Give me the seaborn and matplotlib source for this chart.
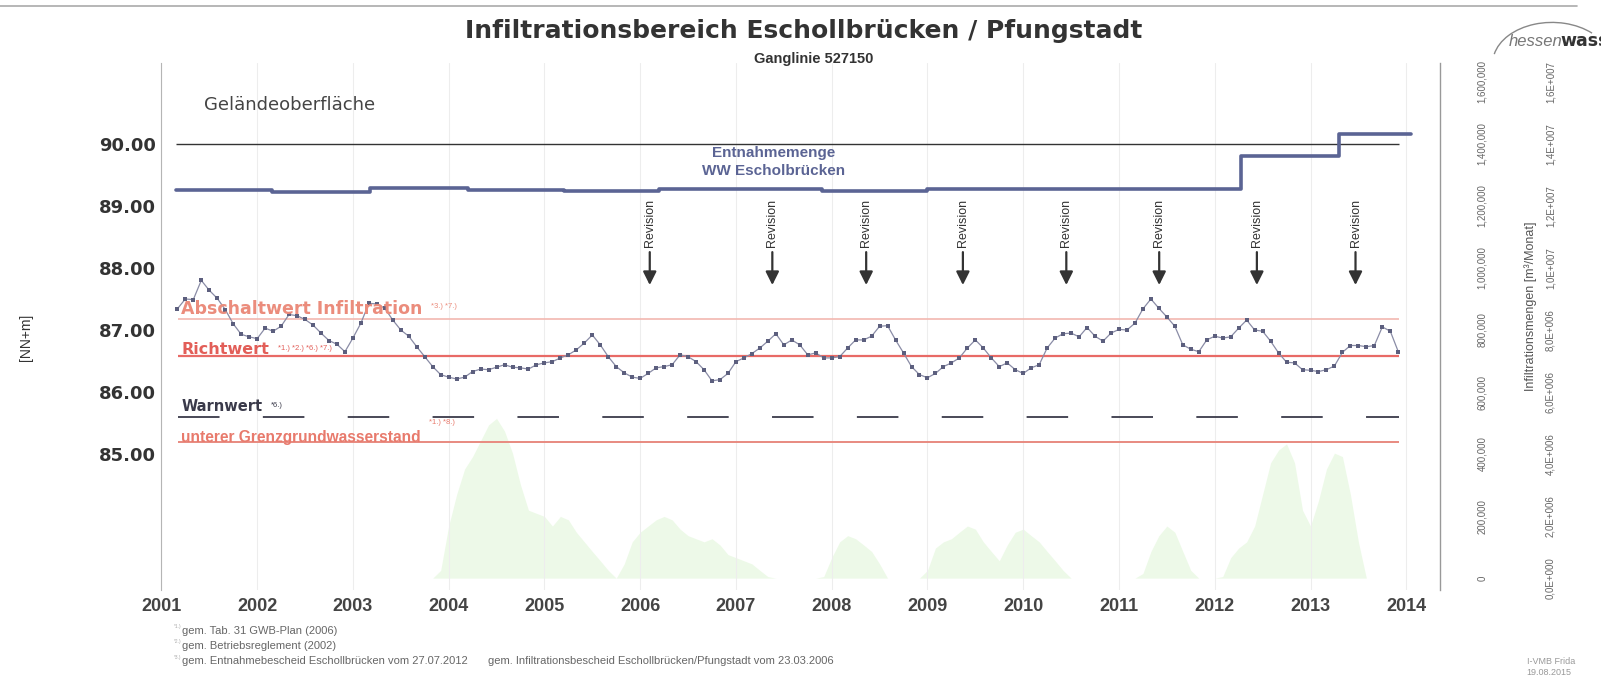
import matplotlib
matplotlib.use('Agg')
import matplotlib.pyplot as plt
import matplotlib.ticker as mticker
from matplotlib.patches import Arc
from matplotlib.lines import Line2D
import numpy as np
import pandas as pd
import seaborn as sns

# Grundwasserstand 527150, Monatswerte ab 03/2001 [NN+m]
gw_first_month = '2001-03-01'
gw_level = [
    87.34, 87.50, 87.49, 87.80, 87.64, 87.51, 87.33, 87.10, 86.93, 86.89,
    86.86, 87.03, 86.98, 87.06, 87.25, 87.23, 87.17, 87.08, 86.95, 86.83, 86.77, 86.65,
    86.87, 87.11, 87.43, 87.42, 87.35, 87.16, 87.00, 86.90, 86.73, 86.57, 86.41, 86.28,
    86.24, 86.21, 86.24, 86.33, 86.37, 86.36, 86.40, 86.44, 86.40, 86.39, 86.37, 86.44,
    86.47, 86.49, 86.55, 86.60, 86.68, 86.79, 86.92, 86.76, 86.57, 86.41, 86.31, 86.24,
    86.22, 86.30, 86.39, 86.41, 86.44, 86.60, 86.57, 86.49, 86.36, 86.18, 86.20, 86.30,
    86.49, 86.55, 86.62, 86.71, 86.82, 86.94, 86.76, 86.84, 86.76, 86.60, 86.63, 86.55,
    86.55, 86.57, 86.71, 86.84, 86.84, 86.90, 87.06, 87.07, 86.84, 86.63, 86.41, 86.28,
    86.23, 86.30, 86.41, 86.47, 86.55, 86.71, 86.84, 86.71, 86.55, 86.41, 86.47, 86.36,
    86.30, 86.39, 86.44, 86.71, 86.87, 86.94, 86.95, 86.89, 87.04, 86.90, 86.82, 86.95,
    87.01, 87.00, 87.11, 87.34, 87.50, 87.35, 87.21, 87.06, 86.76, 86.69, 86.65, 86.84,
    86.90, 86.87, 86.89, 87.03, 87.16, 87.00, 86.98, 86.82, 86.63, 86.48, 86.47, 86.36,
    86.35, 86.33, 86.36, 86.42, 86.64, 86.75, 86.75, 86.73, 86.75, 87.05, 86.98, 86.65,
]

# Infiltrationsmengen [m3/Monat] ab 11/2003
inf_first_month = '2003-11-01'
inf_volume = [
    0, 25000,
    168000, 270000, 352000, 392000, 443000, 494000, 515000, 474000, 403000, 301000, 219000, 209000,
    199000, 168000, 199000, 188000, 148000, 117000, 86000, 56000, 25000, 0, 46000, 117000,
    148000, 168000, 188000, 199000, 188000, 158000, 137000, 127000, 117000, 127000, 107000, 76000,
    66000, 56000, 46000, 25000, 5000, 0, 0, 0, 0, 0, 0, 5000,
    66000, 117000, 137000, 127000, 107000, 86000, 46000, 0, 0, 0, 0, 0,
    25000, 97000, 117000, 127000, 148000, 168000, 158000, 117000, 86000, 56000, 107000, 148000,
    158000, 137000, 117000, 86000, 56000, 25000, 0, 0, 0, 0, 0, 0,
    0, 0, 0, 15000, 86000, 137000, 168000, 148000, 86000, 25000, 0, 0,
    0, 5000, 66000, 97000, 117000, 168000, 270000, 372000, 413000, 433000, 372000, 219000,
    168000, 250000, 352000, 403000, 392000, 270000, 117000, 0,
]

# Entnahmemenge WW Eschollbrücken [m3/a], Stufen
ent_year = [2001.15, 2002.16, 2003.18, 2004.2, 2005.2, 2006.2, 2007.9, 2009.0, 2012.27, 2013.30, 2014.05]
ent_volume = [1.252e7, 1.245e7, 1.259e7, 1.252e7, 1.249e7, 1.255e7, 1.249e7, 1.255e7, 1.361e7, 1.433e7, 1.433e7]

# Grenzwerte [NN+m]
gelaende = 90.00
abschaltwert = 87.17
richtwert = 86.58
warnwert = 85.59
grenzstand = 85.20
limit_from, limit_to = 2001.17, 2013.92

revision_years = [2006.10, 2007.38, 2008.36, 2009.37, 2010.45, 2011.42, 2012.44, 2013.47]


def decimal_year(first, n):
    d = pd.date_range(first, periods=n, freq='MS')
    return d.year + (d.month - 1) / 12.0


df_gw = pd.DataFrame({'jahr': decimal_year(gw_first_month, len(gw_level)), 'stand': gw_level})
df_inf = pd.DataFrame({'jahr': decimal_year(inf_first_month, len(inf_volume)), 'menge': inf_volume})

sns.set_style('white')
plt.rcParams['font.family'] = ['Liberation Sans', 'DejaVu Sans']
WIDE = ['DejaVu Sans']

fig = plt.figure(figsize=(16.01, 6.95), dpi=100)
ax = fig.add_axes([0.1008, 0.1512, 0.7985, 0.7578])
ax2 = ax.twinx()
ax3 = ax.twinx()
ax2.set_zorder(1)
ax.set_zorder(2)
ax3.set_zorder(3)
ax.patch.set_visible(False)

# left axis [NN+m] and right axis [m3/Monat]: 1 m <-> 200,000, 83.00 <-> 0
y_lo, y_hi = 82.81, 91.30
ax.set_ylim(y_lo, y_hi)
ax2.set_ylim((y_lo - 83) * 200000, (y_hi - 83) * 200000)
ax3.set_ylim((y_lo - 83) * 2000000, (y_hi - 83) * 2000000)

# green infiltration area
ax2.fill_between(df_inf['jahr'], df_inf['menge'], 0, color='#eaf9e4', alpha=0.85, lw=0)

ax.set_xticks(range(2001, 2015))
ax.set_yticks([85, 86, 87, 88, 89, 90])
ax.xaxis.grid(True, color='#ededed', lw=0.8)
ax.yaxis.grid(False)

# threshold lines
ax.hlines(gelaende, limit_from - 0.02, limit_to, color='#333333', lw=1.0)
ax.hlines(abschaltwert, limit_from, limit_to, color='#f2b8b0', lw=1.2)
ax.hlines(richtwert, limit_from, limit_to, color='#e86a66', lw=1.6)
ax.hlines(grenzstand, limit_from, limit_to, color='#e88a80', lw=1.4)
ax.plot([limit_from, limit_to], [warnwert, warnwert], color='#3a3a4a', lw=1.3, dashes=(23, 24))

# groundwater series
sns.lineplot(data=df_gw, x='jahr', y='stand', ax=ax, color='#8a8ca6', lw=0.9,
             marker='s', markersize=3.2, markeredgewidth=0, markerfacecolor='#5c5f7e')

# Entnahmemenge step line
ax3.step(ent_year, ent_volume, where='post', color='#5b6494', lw=2.6)
ax3.set_yticks(np.arange(0, 1.7e7, 2e6))


def e_format(v, pos):
    if v == 0:
        return '0,0E+000'
    e = int(np.floor(np.log10(abs(v))))
    m = v / 10 ** e
    return ('%.1f' % m).replace('.', ',') + 'E+%03d' % e


ax3.yaxis.set_major_formatter(mticker.FuncFormatter(e_format))
ax3.tick_params(axis='y', length=0, pad=76, labelsize=7, labelcolor='#666666', labelrotation=90)
for s in ax3.spines.values():
    s.set_visible(False)

ax2.set_yticks(np.arange(0, 1700000, 200000))
ax2.yaxis.set_major_formatter(mticker.FuncFormatter(lambda v, p: '{:,.0f}'.format(v)))
ax2.tick_params(axis='y', length=0, pad=27, labelsize=7, labelcolor='#666666', labelrotation=90)
ax2.set_ylabel('Infiltrationsmengen [m³/Monat]', fontsize=9, color='#555555')
ax2.yaxis.set_label_coords(1.0663, 0.539)
for k, s in ax2.spines.items():
    s.set_visible(k == 'right')
ax2.spines['right'].set_color('#999999')
ax2.spines['right'].set_linewidth(1.0)
for lbl in ax2.get_yticklabels() + ax3.get_yticklabels():
    lbl.set_va('center')

# main axis styling
for k, s in ax.spines.items():
    s.set_visible(k == 'left')
ax.spines['left'].set_color('#b5b5b5')
ax.yaxis.set_major_formatter(mticker.FormatStrFormatter('%.2f'))
ax.tick_params(axis='y', length=0, pad=4, labelsize=13, labelcolor='#333333')
ax.tick_params(axis='x', length=0, pad=6, labelsize=13, labelcolor='#444444')
for lbl in ax.get_xticklabels():
    lbl.set_fontweight('bold')
for lbl in ax.get_yticklabels():
    lbl.set_fontweight('bold')
    lbl.set_family(WIDE)
ax.set_xlabel('')
ax.set_ylabel('[NN+m]', fontsize=10, color='#333333')
ax.yaxis.set_label_coords(-0.1006, 0.48)

# labels in the plot
ax.text(2001.45, 90.62, 'Geländeoberfläche', fontsize=13, color='#444444', va='center', family=WIDE)
ax.text(2007.39, 89.85, 'Entnahmemenge', fontsize=11, color='#5b6494', ha='center', va='center', fontweight='bold')
ax.text(2007.39, 89.57, 'WW Escholbrücken', fontsize=11, color='#5b6494', ha='center', va='center', fontweight='bold')


def label_with_note(x, y, text, note, color, size, family, note_dy=-2):
    t = ax.text(x, y, text, fontsize=size, color=color, fontweight='bold', va='center', family=family)
    ax.annotate(note, xy=(1, 1), xycoords=t, xytext=(6, note_dy), textcoords='offset points',
                fontsize=5.5, color=color, va='top', ha='left')
    return t


label_with_note(2001.21, 87.34, 'Abschaltwert Infiltration', '*3.) *7.)', '#eb8c7c', 12.5, WIDE)
label_with_note(2001.21, 86.68, 'Richtwert', '*1.) *2.) *6.) *7.)', '#e25e58', 11.5, WIDE)
label_with_note(2001.21, 85.77, 'Warnwert', '*6.)', '#3a3a4a', 10.5, WIDE)
label_with_note(2001.21, 85.26, 'unterer Grenzgrundwasserstand', '*1.) *8.)', '#e87a6c', 11.2,
                ['Liberation Sans'], note_dy=8)

# Revision arrows
for yr in revision_years:
    ax.annotate('', xy=(yr, 87.68), xytext=(yr, 88.30),
                arrowprops=dict(arrowstyle='-|>', color='#333333', lw=1.6, mutation_scale=20))
    ax.text(yr, 88.73, 'Revision', rotation=90, fontsize=9, color='#333333', ha='center', va='center')

# shared x range (after all plotting, twins autoscale otherwise)
ax.set_xlim(2001.0, 2014.35)

# titles
fig.text(0.502, 0.955, 'Infiltrationsbereich Eschollbrücken / Pfungstadt', fontsize=18,
         fontweight='bold', color='#333333', ha='center', va='center', family=WIDE)
fig.text(0.508, 0.915, 'Ganglinie 527150', fontsize=10.5, fontweight='bold', color='#333333',
         ha='center', va='center')

# logo
fig.text(0.9425, 0.941, 'hessen', fontsize=12, style='italic', color='#777777', va='center')
fig.text(0.9745, 0.941, 'wasser', fontsize=12.5, fontweight='bold', color='#333333', va='center', family=WIDE)
fig.add_artist(Arc((0.9694, 0.909), 0.074, 0.1175, theta1=60, theta2=160,
                   transform=fig.transFigure, color='#888888', lw=1.0))
fig.add_artist(Line2D([0.0, 0.985], [0.992, 0.992], transform=fig.transFigure, color='#aaaaaa', lw=1.2))

# footnotes
notes = ['gem. Tab. 31 GWB-Plan (2006)', 'gem. Betriebsreglement (2002)',
         'gem. Entnahmebescheid Eschollbrücken vom 27.07.2012']
for i, (yy, n) in enumerate(zip([0.0925, 0.0705, 0.0485], notes)):
    fig.text(0.1085, yy + 0.006, '*%d.)' % (i + 1), fontsize=3.5, color='#aaaaaa', va='center')
    fig.text(0.1135, yy, n, fontsize=8, color='#666666', va='center')
fig.text(0.3048, 0.0485, 'gem. Infiltrationsbescheid Eschollbrücken/Pfungstadt vom 23.03.2006',
         fontsize=8, color='#666666', va='center')
fig.text(0.9535, 0.048, 'I-VMB Frida', fontsize=6.5, color='#999999', va='center')
fig.text(0.9535, 0.032, '19.08.2015', fontsize=6.5, color='#999999', va='center')

fig.savefig('out.png', dpi=100, facecolor='white')
